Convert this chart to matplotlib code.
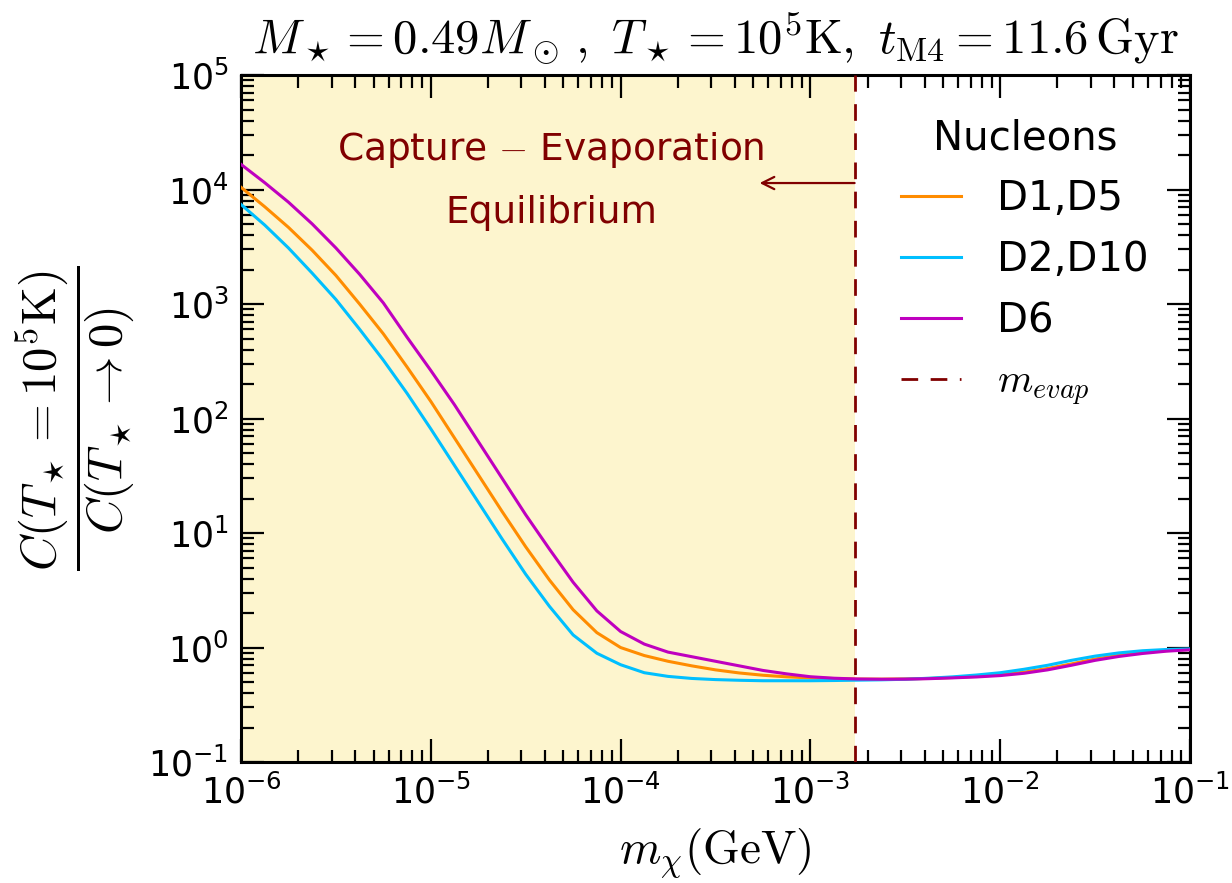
import numpy as np
import matplotlib
matplotlib.use("Agg")
import matplotlib.pyplot as plt
from matplotlib.ticker import FixedLocator, FuncFormatter, NullFormatter

plt.rcParams["mathtext.fontset"] = "cm"
plt.rcParams["font.family"] = ["DejaVu Sans"]

# Dark-matter mass grid, log10(m / GeV)
log_mass = [-6.0, -5.875, -5.75, -5.625, -5.5, -5.375, -5.25, -5.125, -5.0, -4.875,
            -4.75, -4.625, -4.5, -4.375, -4.25, -4.125, -4.0, -3.875, -3.75, -3.625,
            -3.5, -3.375, -3.25, -3.125, -3.0, -2.875, -2.75, -2.625, -2.5, -2.375,
            -2.25, -2.125, -2.0, -1.875, -1.75, -1.625, -1.5, -1.375, -1.25, -1.125, -1.0]

# log10 of C(T=1e5 K) / C(T->0) for each operator group
log_ratio_d1_d5 = [4.02, 3.85, 3.67, 3.47, 3.25, 3.00, 2.74, 2.45, 2.15, 1.83,
                   1.51, 1.19, 0.88, 0.59, 0.33, 0.13, 0.00, -0.07, -0.12, -0.16,
                   -0.195, -0.222, -0.242, -0.256, -0.265, -0.271, -0.275, -0.276, -0.274, -0.270,
                   -0.262, -0.252, -0.238, -0.215, -0.183, -0.143, -0.100, -0.068, -0.043, -0.027, -0.017]
log_ratio_d2_d10 = [3.87, 3.69, 3.49, 3.27, 3.04, 2.78, 2.51, 2.22, 1.91, 1.59,
                    1.27, 0.95, 0.64, 0.36, 0.11, -0.05, -0.15, -0.22, -0.252, -0.27,
                    -0.28, -0.286, -0.29, -0.29, -0.29, -0.288, -0.285, -0.282, -0.277, -0.268,
                    -0.256, -0.240, -0.220, -0.190, -0.155, -0.112, -0.075, -0.047, -0.028, -0.017, -0.012]
log_ratio_d6 = [4.22, 4.06, 3.89, 3.70, 3.49, 3.26, 3.01, 2.71, 2.42, 2.12,
                1.80, 1.48, 1.16, 0.86, 0.57, 0.32, 0.14, 0.03, -0.04, -0.08,
                -0.12, -0.16, -0.20, -0.23, -0.255, -0.268, -0.275, -0.277, -0.276, -0.272,
                -0.265, -0.257, -0.245, -0.225, -0.195, -0.155, -0.112, -0.078, -0.052, -0.032, -0.020]

m_evap = 1.71e-3
series_labels = ["D1,D5", "D2,D10", "D6"]
series_colors = ["#ff8c00", "#00bfff", "#bf00bf"]
line_color = "#800000"
x_decades = [-6, -5, -4, -3, -2, -1]
y_decades = [-1, 0, 1, 2, 3, 4, 5]

mass = 10.0 ** np.array(log_mass)
ratios = [10.0 ** np.array(v) for v in (log_ratio_d1_d5, log_ratio_d2_d10, log_ratio_d6)]

fig = plt.figure(figsize=(12.32, 8.83), dpi=100)
ax = fig.add_axes([0.1956, 0.137, 0.7703, 0.778])

ax.set_xscale("log")
ax.set_yscale("log")
ax.set_xlim(1e-6, 1e-1)
ax.set_ylim(1e-1, 1e5)

# Capture-evaporation equilibrium region
ax.axvspan(1e-6, m_evap, color="#fdf5ce", zorder=0, lw=0)

for y, lab, col in zip(ratios, series_labels, series_colors):
    ax.plot(mass, y, color=col, lw=2.2, label=lab, zorder=3, solid_joinstyle="round")

ax.axvline(m_evap, color=line_color, lw=2.0, ls=(0, (6, 4.5)), label=r"$m_{evap}$", zorder=4)

ax.annotate("", xy=(5.4e-4, 1.14e4), xytext=(m_evap, 1.14e4),
            arrowprops=dict(arrowstyle="->", color=line_color, lw=1.6,
                            mutation_scale=22, shrinkA=0, shrinkB=0))
ax.text(4.3e-5, 2.2e4, "Capture $-$ Evaporation", color=line_color, fontsize=27,
        ha="center", va="center")
ax.text(4.3e-5, 6.3e3, "Equilibrium", color=line_color, fontsize=27,
        ha="center", va="center")

fmt = FuncFormatter(lambda v, p: r"$\mathregular{10^{%d}}$" % int(round(np.log10(v))))
for axis, decs in ((ax.xaxis, x_decades), (ax.yaxis, y_decades)):
    major = [10.0 ** d for d in decs]
    minor = [k * 10.0 ** d for d in decs[:-1] for k in range(2, 10)]
    axis.set_major_locator(FixedLocator(major))
    axis.set_minor_locator(FixedLocator(minor))
    axis.set_major_formatter(fmt)
    axis.set_minor_formatter(NullFormatter())

ax.tick_params(which="both", direction="in", top=True, right=True, labelsize=25, width=1.6)
ax.tick_params(which="major", length=16.5, pad=9)
ax.tick_params(which="minor", length=9)
for s in ax.spines.values():
    s.set_linewidth(2.2)

ax.set_xlabel(r"$m_\chi(\mathrm{GeV})$", fontsize=34, labelpad=12)
ax.set_ylabel(r"$\dfrac{C(T_\star=10^5\mathrm{K})}{C(T_\star\rightarrow 0)}$", fontsize=35, labelpad=8)
ax.set_title(r"$M_\star = 0.49 M_\odot\,,\ T_\star = 10^5\mathrm{K},\ t_{\rm M4} = 11.6\,\mathrm{Gyr}$",
             fontsize=35, pad=15)

leg = ax.legend(loc="upper right", bbox_to_anchor=(0.995, 0.99), frameon=False, fontsize=29,
                title="Nucleons", title_fontsize=29, handlelength=1.5, handletextpad=0.9,
                labelspacing=0.52)

fig.savefig("out.png", dpi=100)
